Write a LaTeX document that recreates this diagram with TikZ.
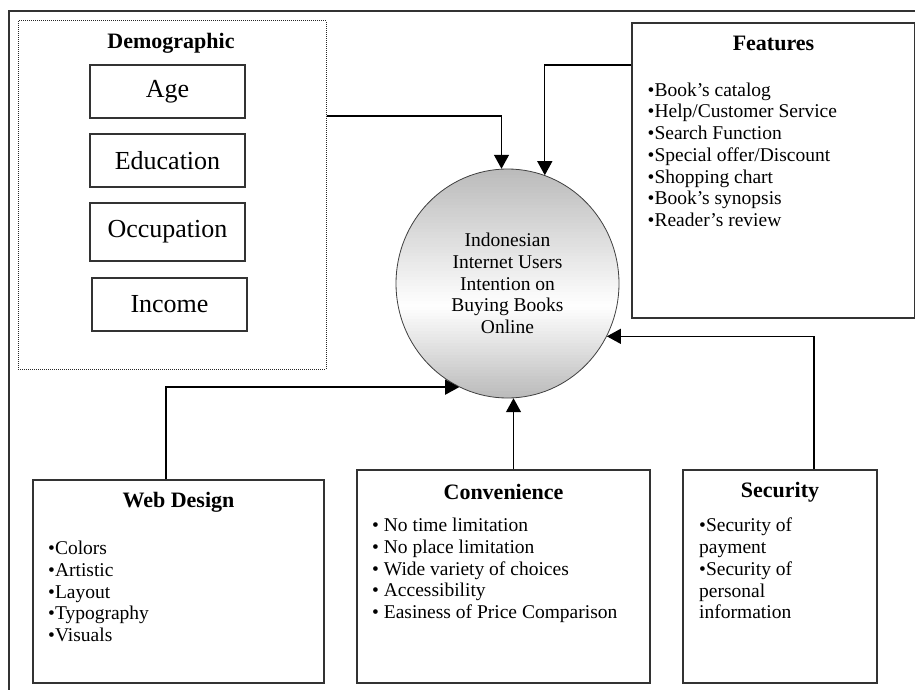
\documentclass[tikz,border=0pt]{standalone}
\usepackage{fontspec}
\setmainfont{Liberation Serif}
\usetikzlibrary{arrows.meta,shapes.geometric}
\begin{document}
\begin{tikzpicture}[x=1pt,y=-1pt,
  frame/.style={draw=black!80, line width=1.5pt},
  bx/.style={draw=black!80, line width=1.3pt, rectangle, inner sep=0pt},
  item/.style={bx, minimum width=155pt, font=\fontsize{26}{26}\selectfont},
  ttl/.style={font=\fontsize{22}{22}\selectfont\bfseries, inner sep=0pt},
  lst/.style={anchor=north west, align=left, inner sep=0pt, font=\fontsize{19.5}{21.75}\selectfont},
  arr/.style={draw=black, line width=1.3pt, -{Triangle[length=14pt,width=15pt]}},
]
\useasboundingbox (0,0) rectangle (915,690);
\clip (0,0) rectangle (915,690);
\fill[white] (0,0) rectangle (915,690);

% outer frame (left and top edges)
\draw[frame] (9,700) -- (9,11) -- (920,11);

% Demographic group
\node[draw=black!85, line width=1pt, densely dotted, rectangle, inner sep=0pt,
      minimum width=308pt, minimum height=348pt] (demo) at (172,195) {};
\node[ttl] (demot) at (171,43) {Demographic};
\node[item, minimum height=53pt] (age) at (167.5,91.5) {Age};
\node[item, minimum height=53pt] (edu) at (167.5,160.5) {Education};
\node[item, minimum height=58pt] (occ) at (167.5,232) {Occupation};
\node[item, minimum height=53pt] (inc) at (169.5,304.5) {Income};

% Features
\node[bx, minimum width=283pt, minimum height=295pt] (feat) at (773.5,170.5) {};
\node[ttl] (featt) at (773.5,43) {Features};
\node[lst] (featl) at (647.5,82.5) {•Book’s catalog\\•Help/Customer Service\\•Search Function\\•Special offer/Discount\\•Shopping chart\\•Book’s synopsis\\•Reader’s review};

% Central circle: gradient built from strips clipped to the ellipse
\begin{scope}
  \clip (507.5,283.5) ellipse [x radius=111.5pt, y radius=114.5pt];
  \foreach \i in {0,...,77} {
    \pgfmathsetmacro{\f}{(3*\i+1.5)/229}
    \pgfmathsetmacro{\q}{\f<0.6 ? 27*(1-\f/0.6) : 27*(\f-0.6)/0.4}
    \fill[black!\q] (390,169+3*\i) rectangle (630,172.8+3*\i);
  }
\end{scope}
\node[ellipse, draw=black!75, line width=0.8pt, minimum width=223pt, minimum height=229pt,
      inner sep=0pt, align=center, font=\fontsize{19.5}{21.75}\selectfont] (c) at (507.5,283.5)
      {Indonesian\\Internet Users\\Intention on\\Buying Books\\Online};

% Web Design
\node[bx, minimum width=291pt, minimum height=203pt] (web) at (178.5,581.5) {};
\node[ttl] (webt) at (178.5,502) {Web Design};
\node[lst] (webl) at (48,541) {•Colors\\•Artistic\\•Layout\\•Typography\\•Visuals};

% Convenience
\node[bx, minimum width=293pt, minimum height=213pt] (conv) at (503.5,576.5) {};
\node[ttl] (convt) at (503.5,492) {Convenience};
\node[lst] (convl) at (372,518) {• No time limitation\\• No place limitation\\• Wide variety of choices\\• Accessibility\\• Easiness of Price Comparison};

% Security
\node[bx, minimum width=194pt, minimum height=213pt] (sec) at (780,576.5) {};
\node[ttl] (sect) at (780,492) {Security};
\node[lst] (secl) at (699,518) {•Security of\\payment\\•Security of\\personal\\information};

% connectors
\coordinate (dy) at (0,116);
\coordinate (fy) at (0,65);
\coordinate (wx) at (166,0);
\coordinate (sx) at (814,0);
\draw[arr] (demo.east |- dy) -| (c.93.3);
\draw[arr] (feat.west |- fy) -| (c.71.4);
\draw[arr] (web.north -| wx) |- (c.245.3);
\draw[arr] (c.273.3 |- conv.north) -- (c.273.3);
\draw[arr] (sec.north -| sx) |- (c.-28.5);
\end{tikzpicture}
\end{document}
